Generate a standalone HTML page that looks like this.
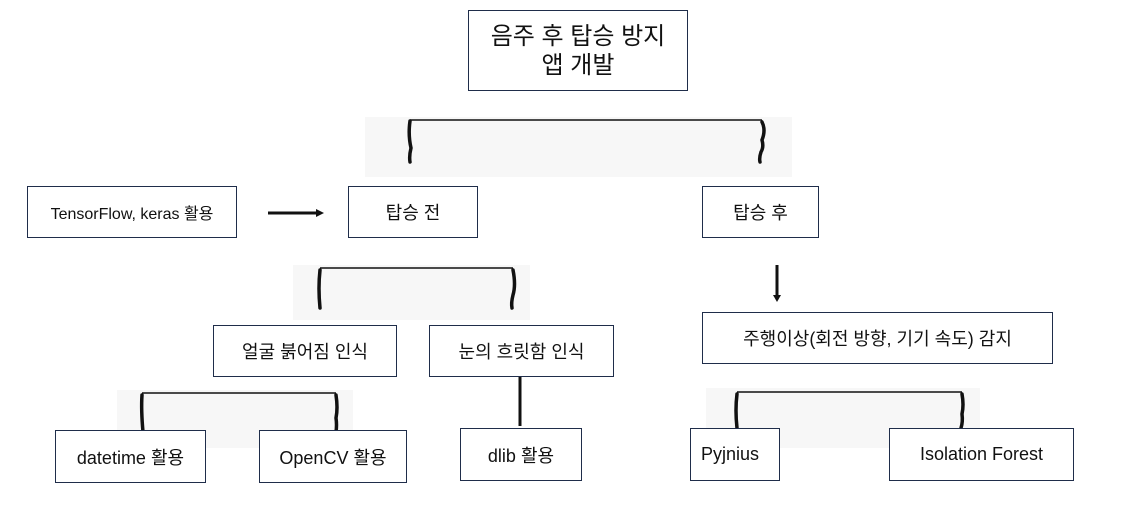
<!DOCTYPE html>
<html><head><meta charset="utf-8"><style>
body{margin:0;width:1135px;height:510px;background:#fff;position:relative;overflow:hidden;font-family:"Liberation Sans","Noto Sans CJK KR","NanumGothic",sans-serif;color:#111}
.b{position:absolute;border:1.5px solid #1f2d4a;box-sizing:border-box;display:flex;align-items:center;justify-content:center;font-size:18px;background:#fff;white-space:nowrap}
.g{position:absolute;background:#f7f7f7}
svg{position:absolute;left:0;top:0}
</style></head><body>
<div class="g" style="left:365px;top:117px;width:427px;height:60px"></div>
<div class="g" style="left:293px;top:265px;width:237px;height:55px"></div>
<div class="g" style="left:117px;top:390px;width:236px;height:58px"></div>
<div class="g" style="left:706px;top:388px;width:274px;height:60px"></div>
<svg width="1135" height="510">
<g stroke="#111" fill="none" stroke-width="1.5">
<path d="M410 120 L762 120"/><path d="M320 268 L513 268"/><path d="M142 393 L336 393"/><path d="M737 392 L962 392"/>
</g>
<g stroke="#111" fill="none" stroke-width="3.5" stroke-linecap="round">
<path d="M410 121 Q408 135 411 148 Q409 156 410 162"/>
<path d="M762 122 Q766 130 762 140 Q764 147 761 152 Q759 158 760 162"/>
<path d="M320 270 Q318 288 320 308"/><path d="M513 270 Q516 285 513 295 Q511 303 512 308"/>
<path d="M142 395 Q141 410 143 432"/><path d="M336 395 Q338 408 336 418 Q337 425 336 432"/>
<path d="M737 394 Q735 410 737 428"/><path d="M962 394 Q964 405 962 414 Q963 422 961 428"/>
</g>
<g stroke="#111" stroke-width="3">
<line x1="268" y1="213" x2="316" y2="213"/><line x1="777" y1="265" x2="777" y2="295"/><line x1="520" y1="376" x2="520" y2="426"/>
</g>
<polygon points="316,209 324,213 316,217" fill="#111"/>
<polygon points="773,295 777,302 781,295" fill="#111"/>
</svg>
<div class="b" style="left:468px;top:10px;width:220px;height:81px;font-size:24px;line-height:29px;text-align:center">음주 후 탑승 방지<br>앱 개발</div>
<div class="b" style="left:27px;top:186px;width:210px;height:52px;font-size:16px">TensorFlow, keras 활용</div>
<div class="b" style="left:348px;top:186px;width:130px;height:52px">탑승 전</div>
<div class="b" style="left:702px;top:186px;width:117px;height:52px">탑승 후</div>
<div class="b" style="left:213px;top:325px;width:184px;height:52px">얼굴 붉어짐 인식</div>
<div class="b" style="left:429px;top:325px;width:185px;height:52px">눈의 흐릿함 인식</div>
<div class="b" style="left:702px;top:312px;width:351px;height:52px">주행이상(회전 방향, 기기 속도) 감지</div>
<div class="b" style="left:55px;top:430px;width:151px;height:53px">datetime 활용</div>
<div class="b" style="left:259px;top:430px;width:148px;height:53px">OpenCV 활용</div>
<div class="b" style="left:460px;top:428px;width:122px;height:53px">dlib 활용</div>
<div class="b" style="left:690px;top:428px;width:90px;height:53px;justify-content:flex-start;padding-left:10px;align-items:flex-start;padding-top:15px">Pyjnius</div>
<div class="b" style="left:889px;top:428px;width:185px;height:53px">Isolation Forest</div>
</body></html>
